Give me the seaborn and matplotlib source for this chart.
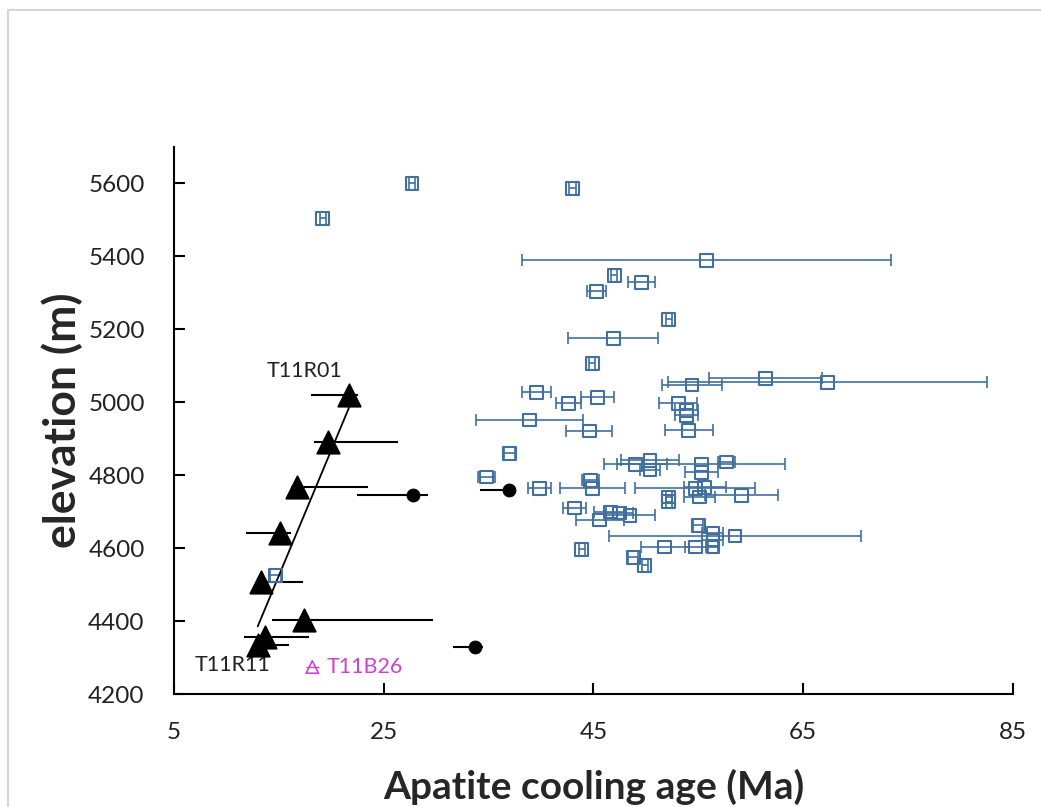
import pandas as pd
import matplotlib.pyplot as plt
import seaborn as sns
from matplotlib.patches import Rectangle


# blue open squares (age in Ma, elevation in m, 1 sigma on age)
blue_age = [19.2, 27.7, 43.0, 55.8, 47.0, 49.6, 45.3, 52.2, 46.9, 44.9,
            61.4, 67.3, 54.4, 39.6, 42.6, 45.4, 38.9, 44.6, 53.1, 53.9,
            53.9, 54.1, 37.0, 34.8, 39.9, 44.7, 44.9, 49.0, 50.4, 50.4,
            55.3, 55.3, 57.7, 54.7, 55.6, 55.1, 59.1, 52.2, 52.2, 43.2,
            45.6, 46.6, 47.5, 48.5, 55.0, 58.5, 56.4, 56.4, 56.4, 54.7,
            51.8, 48.8, 49.9, 43.9, 14.7]
blue_elev = [5504, 5600, 5586, 5389, 5348, 5329, 5304, 5227, 5175, 5107,
             5066, 5055, 5047, 5027, 4997, 5014, 4951, 4921, 4997, 4978,
             4964, 4923, 4860, 4795, 4764, 4786, 4764, 4830, 4841, 4814,
             4830, 4808, 4836, 4764, 4767, 4740, 4745, 4740, 4727, 4710,
             4677, 4699, 4696, 4690, 4663, 4633, 4641, 4622, 4603, 4603,
             4603, 4575, 4553, 4597, 4526]
blue_err = [0.3, 0.3, 0.3, 17.6, 0.3, 1.3, 0.9, 0.3, 4.3, 0.3,
            5.4, 15.2, 2.9, 1.4, 1.2, 1.6, 5.1, 2.2, 1.8, 1.1,
            1.1, 2.3, 0.5, 0.8, 1.1, 0.8, 3.1, 3.0, 2.8, 1.0,
            8.0, 1.6, 0.8, 5.7, 2.0, 1.5, 3.5, 0.3, 0.3, 1.05,
            2.3, 1.5, 1.3, 2.4, 0.5, 12.0, 1.0, 1.0, 0.5, 1.0,
            2.3, 0.5, 0.3, 0.3, 0.5]

# black triangles, T11R01 ... T11R11
tri_age = [21.7, 19.7, 16.7, 15.1, 13.3, 17.4, 13.7, 13.0]
tri_elev = [5019, 4890, 4767, 4641, 4507, 4403, 4357, 4334]
tri_err_lo = [3.6, 1.3, 0.5, 3.2, 0.5, 3.0, 2.0, 0.5]
tri_err_hi = [0.9, 6.7, 6.8, 1.1, 4.0, 12.3, 4.2, 3.0]

# black dots
dot_age = [27.8, 37.0, 33.7]
dot_elev = [4745, 4759, 4329]
dot_err_lo = [5.3, 2.8, 2.1]
dot_err_hi = [1.4, 0.2, 0.8]

# T11B26
b26_age = [18.2]
b26_elev = [4274]

x_ticks = [5, 25, 45, 65, 85]
y_ticks = [4200, 4400, 4600, 4800, 5000, 5200, 5400, 5600]

blue = "#41709f"
magenta = "#cc44cc"


sns.set_theme(style="ticks")
plt.rcParams["font.family"] = ["Lato", "DejaVu Sans"]

blue_df = pd.DataFrame({"age": blue_age, "elev": blue_elev, "err": blue_err})
tri_df = pd.DataFrame({"age": tri_age, "elev": tri_elev})
dot_df = pd.DataFrame({"age": dot_age, "elev": dot_elev})

fig = plt.figure(figsize=(10.41, 8.07), dpi=100)
ax = fig.add_axes([0.167, 0.140, 0.806, 0.678])

# light grey frame round the picture
fig.patches.append(Rectangle((0.0077, -0.05), 1.2, 1.0376, transform=fig.transFigure,
                             fill=False, edgecolor="#d6d6d6", linewidth=1.5))

ax.errorbar(blue_df["age"], blue_df["elev"], xerr=blue_df["err"], fmt="none",
            ecolor=blue, elinewidth=1.2, capsize=4, capthick=1.2, zorder=2)
sns.scatterplot(data=blue_df, x="age", y="elev", marker="s", s=85,
                facecolor="none", edgecolor=blue, linewidth=1.5, ax=ax, zorder=3)

ax.errorbar(tri_age, tri_elev, xerr=[tri_err_lo, tri_err_hi], fmt="none",
            ecolor="black", elinewidth=1.5, capsize=0, zorder=2)
ax.errorbar(dot_age, dot_elev, xerr=[dot_err_lo, dot_err_hi], fmt="none",
            ecolor="black", elinewidth=1.5, capsize=0, zorder=2)

sns.regplot(data=tri_df, x="age", y="elev", scatter=False, ci=None, truncate=True,
            color="black", line_kws={"linewidth": 1.3}, ax=ax)

sns.scatterplot(data=tri_df, x="age", y="elev", marker="^", s=260,
                color="black", edgecolor="black", ax=ax, zorder=4)
sns.scatterplot(data=dot_df, x="age", y="elev", marker="o", s=85,
                color="black", edgecolor="black", ax=ax, zorder=4)

ax.errorbar(b26_age, b26_elev, xerr=0.6, fmt="none", ecolor=magenta,
            elinewidth=1, capsize=0, zorder=2)
sns.scatterplot(x=b26_age, y=b26_elev, marker="^", s=80, facecolor="none",
                edgecolor=magenta, linewidth=1.2, ax=ax, zorder=4)

ax.text(17.5, 5085, "T11R01", fontsize=15.5, ha="center", va="center", color="#222222")
ax.text(10.6, 4279, "T11R11", fontsize=15.5, ha="center", va="center", color="#222222")
ax.text(19.6, 4274, "T11B26", fontsize=15.5, ha="left", va="center", color=magenta)

ax.set_xlim(5, 85)
ax.set_ylim(4200, 5700)
ax.set_xticks(x_ticks)
ax.set_yticks(y_ticks)

ax.tick_params(axis="both", direction="in", length=8, width=1.5, colors="black",
               labelsize=17.5, labelcolor="#222222")
ax.tick_params(axis="y", pad=21)
ax.tick_params(axis="x", pad=20)

sns.despine(ax=ax)
for side in ["left", "bottom"]:
    ax.spines[side].set_linewidth(1.5)
    ax.spines[side].set_color("black")

ax.set_xlabel("Apatite cooling age (Ma)", fontsize=28, fontweight="bold", labelpad=19)
ax.set_ylabel("elevation (m)", fontsize=32, fontweight="bold", labelpad=4)

fig.savefig("out.png", dpi=100, facecolor="white")
